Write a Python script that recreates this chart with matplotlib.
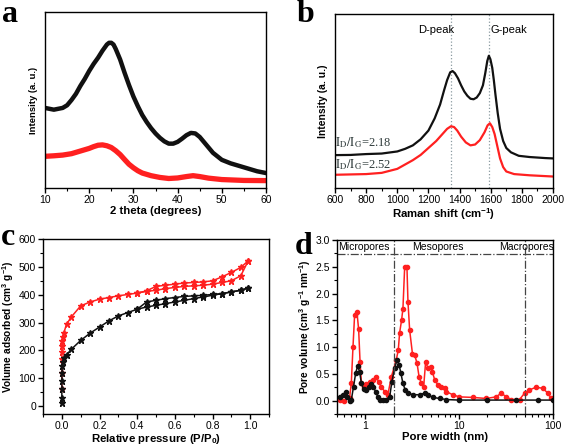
import numpy as np
import matplotlib
matplotlib.use('Agg')
import matplotlib.pyplot as plt
from matplotlib.ticker import MultipleLocator, FuncFormatter

plt.rcParams['font.family'] = ['Liberation Sans', 'DejaVu Sans']
plt.rcParams['font.size'] = 7.5
plt.rcParams['mathtext.fontset'] = 'custom'
plt.rcParams['mathtext.rm'] = 'Liberation Sans'
plt.rcParams['mathtext.bf'] = 'Liberation Sans:bold'
plt.rcParams['axes.linewidth'] = 1.0

# ---- panel a: XRD ----
xrd_x_black = [10, 11, 12, 13, 14, 15, 16, 17, 18, 19, 20, 21, 22, 23, 24, 24.5, 25, 25.5, 26, 27, 28, 29, 30, 31, 32,
               33, 34, 35, 36, 37, 38, 39, 40, 41, 42, 43, 44, 45, 46, 47, 48, 49, 50, 52, 54, 56, 58, 60]
xrd_black = [0.455, 0.45, 0.445, 0.45, 0.455, 0.47, 0.50, 0.535, 0.58, 0.62, 0.665, 0.705, 0.74, 0.78, 0.815, 0.825,
             0.825, 0.815, 0.79, 0.73, 0.655, 0.585, 0.52, 0.465, 0.415, 0.375, 0.34, 0.31, 0.285, 0.265, 0.252, 0.252,
             0.262, 0.28, 0.30, 0.313, 0.31, 0.29, 0.26, 0.23, 0.20, 0.18, 0.16, 0.14, 0.125, 0.11, 0.095, 0.085]
xrd_x_red = [10, 12, 14, 16, 18, 20, 21, 22, 23, 24, 25, 26, 27, 28, 29, 30, 31, 32, 34, 36, 38, 40, 42, 43.5, 45, 47,
             50, 55, 60]
xrd_red = [0.18, 0.183, 0.187, 0.195, 0.21, 0.225, 0.235, 0.243, 0.245, 0.24, 0.23, 0.212, 0.19, 0.162, 0.135, 0.115,
           0.098, 0.085, 0.07, 0.06, 0.054, 0.057, 0.065, 0.07, 0.065, 0.056, 0.048, 0.043, 0.042]

# ---- panel b: Raman ----
ram_x_black = [600, 700, 800, 900, 1000, 1050, 1100, 1150, 1200, 1240, 1275, 1300, 1320, 1340, 1355, 1370, 1390, 1410,
               1430, 1450, 1470, 1490, 1510, 1530, 1550, 1565, 1578, 1588, 1598, 1610, 1620, 1630, 1645, 1660, 1680,
               1700, 1730, 1780, 1850, 1950, 2000]
ram_black = [0.189, 0.19, 0.195, 0.198, 0.21, 0.225, 0.245, 0.28, 0.33, 0.40, 0.48, 0.56, 0.62, 0.665, 0.672, 0.66,
             0.63, 0.59, 0.555, 0.53, 0.513, 0.51, 0.52, 0.545, 0.59, 0.66, 0.73, 0.76, 0.74, 0.69, 0.62, 0.54, 0.43,
             0.34, 0.27, 0.23, 0.205, 0.185, 0.178, 0.172, 0.17]
ram_x_red = [600, 700, 800, 900, 1000, 1100, 1150, 1200, 1250, 1290, 1320, 1345, 1365, 1385, 1410, 1440, 1470, 1500,
             1530, 1560, 1580, 1595, 1610, 1625, 1640, 1660, 1680, 1700, 1750, 1850, 2000]
ram_red = [0.076, 0.078, 0.08, 0.087, 0.11, 0.16, 0.19, 0.23, 0.27, 0.31, 0.34, 0.355, 0.35, 0.33, 0.295, 0.262, 0.245,
           0.25, 0.275, 0.32, 0.36, 0.372, 0.35, 0.31, 0.25, 0.17, 0.12, 0.095, 0.08, 0.073, 0.066]
d_peak = 1345
g_peak = 1586

# ---- panel c: N2 isotherms ----
p_low = [0.00001, 0.00005, 0.0001, 0.0005, 0.001, 0.002, 0.005, 0.01, 0.025, 0.05]
p_ads = [0.1, 0.15, 0.2, 0.25, 0.3, 0.35, 0.4, 0.45, 0.5, 0.55, 0.6, 0.65, 0.7, 0.75, 0.8, 0.85, 0.9, 0.95, 0.99]
p_des = [0.99, 0.95, 0.9, 0.85, 0.8, 0.75, 0.7, 0.65, 0.6, 0.55, 0.5, 0.45, 0.4]
red_low = [60, 120, 170, 195, 215, 235, 250, 262, 294, 320]
red_ads = [360, 374, 384, 390, 396, 401, 406, 412, 416, 422, 426, 430, 432, 434, 438, 444, 450, 468, 522]
red_des = [522, 498, 480, 464, 450, 446, 444, 442, 438, 434, 430, 414, 406]
black_low = [10, 30, 60, 90, 120, 145, 160, 172, 184, 204]
black_ads = [236, 262, 284, 306, 324, 336, 348, 356, 362, 368, 374, 380, 386, 392, 398, 404, 410, 416, 424]
black_des = [424, 416, 410, 404, 401, 398, 396, 394, 390, 386, 380, 374, 348]

# ---- panel d: pore size distribution ----
psd_x_red = [0.54, 0.60, 0.68, 0.71, 0.74, 0.77, 0.815, 0.85, 0.88, 0.91, 0.97, 1.03, 1.11, 1.21, 1.31, 1.39, 1.48, 1.61,
             1.74, 1.9, 2.14, 2.25, 2.32, 2.44, 2.52, 2.63, 2.78, 2.85, 2.97, 3.18, 3.36, 3.56, 3.74, 3.96, 4.19, 4.40,
             4.66, 4.97, 5.18, 5.49, 5.96, 6.47, 7.02, 7.26, 8.55, 10, 14, 19.4, 24.8, 28.1, 31.8, 35.9, 44, 49.8, 56,
             66, 78, 88, 95.8]
psd_red = [0.01, 0.0, 0.05, 0.32, 1.0, 1.6, 1.66, 1.33, 0.73, 0.32, 0.26, 0.31, 0.35, 0.39, 0.44, 0.35, 0.26, 0.17,
           0.11, 0.45, 0.76, 0.95, 1.26, 1.51, 1.72, 2.50, 2.50, 1.85, 1.32, 0.88, 0.85, 0.70, 0.45, 0.32, 0.26, 0.73,
           0.60, 0.62, 0.54, 0.39, 0.29, 0.26, 0.23, 0.17, 0.11, 0.07, 0.06, 0.04, 0.07, 0.14, 0.07, 0.02, 0.02, 0.14,
           0.2, 0.25, 0.23, 0.14, 0.04]
psd_x_black = [0.54, 0.58, 0.62, 0.64, 0.68, 0.71, 0.75, 0.79, 0.83, 0.87, 0.91, 0.96, 1.02, 1.09, 1.15, 1.21, 1.29,
               1.36, 1.45, 1.54, 1.67, 1.82, 1.92, 2.05, 2.18, 2.29, 2.40, 2.52, 2.67, 2.85, 3.23, 3.80, 4.29, 4.66,
               5.27, 6.2, 7.3, 10, 20, 40, 70, 100]
psd_black = [0.07, 0.1, 0.17, 0.07, 0.0, 0.01, 0.26, 0.51, 0.65, 0.54, 0.32, 0.21, 0.2, 0.26, 0.31, 0.26, 0.17, 0.07,
             0.02, 0.01, 0.02, 0.07, 0.35, 0.6, 0.76, 0.67, 0.51, 0.32, 0.2, 0.14, 0.11, 0.11, 0.14, 0.11, 0.06, 0.04,
             0.02, 0.01, 0.01, 0.01, 0.01, 0.01]

RED = '#ff2020'
BLK = '#111111'

fig = plt.figure(figsize=(5.67, 4.46), dpi=100)
W, H = 567.0, 446.0


def box(l, t, r, b):
    return [l / W, 1 - b / H, (r - l) / W, (b - t) / H]


def style(ax):
    ax.tick_params(which='major', direction='out', length=3.5, width=1, top=False, right=False, pad=1.5,
                   labelsize=7.5)
    ax.tick_params(which='minor', direction='out', length=2, width=0.8, top=False, right=False)


xlab_kw = dict(fontsize=8.2, fontweight='bold')

# panel a
ax = fig.add_axes(box(45, 12, 266, 188))
ax.plot(xrd_x_red, xrd_red, color=RED, lw=3.8)
ax.plot(xrd_x_black, xrd_black, color=BLK, lw=3.2)
ax.set_xlim(10, 60)
ax.set_ylim(0, 1)
ax.set_yticks([])
ax.xaxis.set_major_locator(MultipleLocator(10))
ax.xaxis.set_minor_locator(MultipleLocator(5))
style(ax)
ax.set_xlabel('2 theta (degrees)', labelpad=1, **xlab_kw)
ax.set_ylabel('Intensity (a. u.)', labelpad=5, fontsize=6.8, fontweight='bold')

# panel b
ax = fig.add_axes(box(335, 14, 553, 188))
ax.axvline(d_peak, color='#8a9aa0', ls=':', lw=0.9)
ax.axvline(g_peak, color='#8a9aa0', ls=':', lw=0.9)
ax.plot(ram_x_red, ram_red, color=RED, lw=1.6)
ax.plot(ram_x_black, ram_black, color=BLK, lw=1.6)
ax.set_xlim(600, 2000)
ax.set_ylim(0, 1)
ax.set_yticks([])
ax.xaxis.set_major_locator(MultipleLocator(200))
ax.xaxis.set_minor_locator(MultipleLocator(100))
style(ax)
ax.set_xlabel('Raman shift (cm$^{\\mathbf{-1}}$)', labelpad=1, **xlab_kw)
ax.set_ylabel('Intensity (a. u.)', labelpad=5, fontsize=7.5, fontweight='bold')
ax.text(1136, 0.91, 'D-peak', fontsize=8, va='center')
ax.text(1597, 0.91, 'G-peak', fontsize=8, va='center')
ax.text(603, 0.24, r'$\mathrm{I_D/I_G}$=2.18', fontsize=9, color='#2f3b3b', family='Liberation Serif',
        math_fontfamily='stix')
ax.text(603, 0.115, r'$\mathrm{I_D/I_G}$=2.52', fontsize=9, color='#2f3b3b', family='Liberation Serif',
        math_fontfamily='stix')

# panel c
ax = fig.add_axes(box(43, 239, 269, 414))
mk = dict(marker='*', ms=4.5, lw=1.1)
ax.plot(p_low + p_ads, red_low + red_ads, color=RED, **mk)
ax.plot(p_des, red_des, color=RED, **mk)
ax.plot(p_low + p_ads, black_low + black_ads, color=BLK, **mk)
ax.plot(p_des, black_des, color=BLK, **mk)
ax.set_xlim(-0.1, 1.1)
ax.set_ylim(-28, 600)
ax.xaxis.set_major_locator(MultipleLocator(0.2))
ax.xaxis.set_minor_locator(MultipleLocator(0.1))
ax.yaxis.set_major_locator(MultipleLocator(100))
ax.yaxis.set_minor_locator(MultipleLocator(50))
ax.xaxis.set_major_formatter(FuncFormatter(lambda v, p: f'{v:.1f}'))
style(ax)
ax.set_xlabel('Relative pressure (P/P$_{\\mathbf{0}}$)', labelpad=1, **xlab_kw)
ax.set_ylabel('Volume adsorbed (cm$^{\\mathbf{3}}$ g$^{\\mathbf{-1}}$)', labelpad=2, fontsize=7.3,
              fontweight='bold')

# panel d
ax = fig.add_axes(box(337, 240, 553, 414))
ax.set_xscale('log')
mk = dict(marker='o', ms=3, lw=1.1)
ax.plot(psd_x_red, psd_red, color=RED, **mk)
ax.plot(psd_x_black, psd_black, color=BLK, **mk)
ax.axhline(2.73, color='#444444', ls='-.', lw=0.9)
ax.axvline(2, color='#444444', ls='-.', lw=0.9)
ax.axvline(50, color='#444444', ls='-.', lw=0.9)
ax.text(0.52, 2.86, 'Micropores', fontsize=7.5, va='center')
ax.text(3.15, 2.86, 'Mesopores', fontsize=7.5, va='center')
ax.text(27, 2.86, 'Macropores', fontsize=7.5, va='center')
ax.set_xlim(0.5, 100)
ax.set_ylim(-0.25, 3.0)
ax.yaxis.set_major_locator(MultipleLocator(0.5))
ax.yaxis.set_minor_locator(MultipleLocator(0.25))
ax.yaxis.set_major_formatter(FuncFormatter(lambda v, p: f'{v:.1f}'))
ax.xaxis.set_major_formatter(FuncFormatter(lambda v, p: f'{v:g}'))
style(ax)
ax.set_xlabel('Pore width (nm)', labelpad=1, **xlab_kw)
ax.set_ylabel('Pore volume (cm$^{\\mathbf{3}}$ g$^{\\mathbf{-1}}$ nm$^{\\mathbf{-1}}$)', labelpad=2, fontsize=7.3,
              fontweight='bold')

# panel letters
letter_kw = dict(fontsize=23, fontweight='bold', family='Liberation Serif')
fig.text(2 / W, 1 - 22 / H, 'a', **letter_kw)
fig.text(297 / W, 1 - 22 / H, 'b', **letter_kw)
fig.text(1 / W, 1 - 245 / H, 'c', **letter_kw)
fig.text(295 / W, 1 - 254 / H, 'd', **letter_kw)

plt.savefig('out.png', dpi=100)
plt.close()
